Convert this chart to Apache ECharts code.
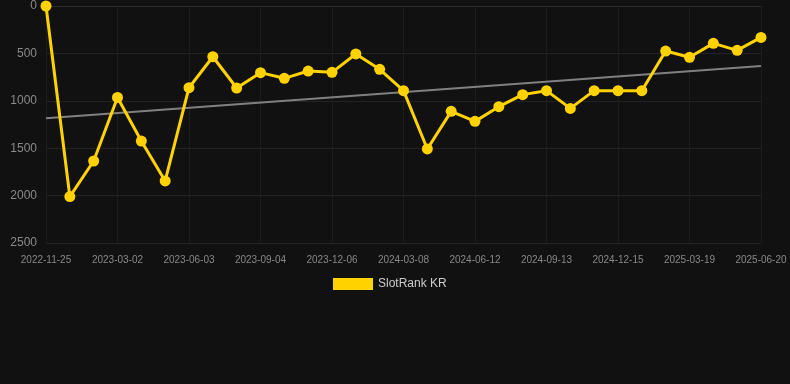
<!DOCTYPE html>
<html lang="en">
<head>
    <meta charset="UTF-8" />
    <title>SlotRank KR</title>
    <script src="https://cdn.jsdelivr.net/npm/echarts@6/dist/echarts.min.js"></script>
    <style>
        html, body { margin: 0; padding: 0; background: #111111; }
    </style>
</head>
<body>
    <div id="chart" style="width: 790px; height: 384px"></div>
    <script>
        // dates (only every 3rd one is shown on the axis)
        var dates = [
            "2022-11-25", "2022-12-27", "2023-01-29", "2023-03-02", "2023-04-03", "2023-05-03",
            "2023-06-03", "2023-07-05", "2023-08-04", "2023-09-04", "2023-10-05", "2023-11-05",
            "2023-12-06", "2024-01-06", "2024-02-06", "2024-03-08", "2024-04-09", "2024-05-11",
            "2024-06-12", "2024-07-13", "2024-08-13", "2024-09-13", "2024-10-14", "2024-11-14",
            "2024-12-15", "2025-01-16", "2025-02-17", "2025-03-19", "2025-04-20", "2025-05-20",
            "2025-06-20"
        ];

        var rankKR = [
            0, 2010, 1635, 965, 1425, 1845, 862, 535, 865, 703, 763,
            686, 700, 506, 668, 893, 1508, 1111, 1217, 1062, 935,
            893, 1080, 893, 893, 893, 475, 541, 394, 468, 331
        ];

        // trend line end points [index, value]
        var trend = [[0, 1185], [30, 633]];

        var yTicks = { min: 0, max: 2500, interval: 500 };

        var mCharts = echarts.init(document.getElementById("chart"));

        var option = {
            backgroundColor: "#111111",
            animation: false,
            grid: { left: 46, right: 29, top: 6, bottom: 141 },
            legend: {
                top: 273,
                left: 328,
                itemWidth: 40,
                itemHeight: 12,
                icon: "rect",
                data: ["SlotRank KR"],
                textStyle: { color: "#cccccc", fontSize: 12 },
            },
            xAxis: {
                type: "category",
                data: dates,
                boundaryGap: false,
                axisLine: { lineStyle: { color: "#2a2a2a" } },
                axisTick: { show: false },
                axisLabel: { interval: 2, color: "#888888", fontSize: 10, margin: 12 },
                splitLine: { show: true, interval: 2, lineStyle: { color: "#1c1c1c" } },
            },
            yAxis: {
                type: "value",
                inverse: true,
                min: yTicks.min,
                max: yTicks.max,
                interval: yTicks.interval,
                axisLine: { show: false },
                axisTick: { show: false },
                axisLabel: {
                    color: "#8a8a8a",
                    fontSize: 12,
                    margin: 9,
                    formatter: function (v) { return String(v); },
                },
                splitLine: { lineStyle: { color: "#222222" } },
            },
            series: [
                {
                    name: "SlotRank KR",
                    type: "line",
                    data: rankKR,
                    color: "#FFD200",
                    symbol: "circle",
                    symbolSize: 11,
                    lineStyle: { width: 3, color: "#FFD200" },
                    itemStyle: { color: "#FFD200" },
                    z: 3,
                },
                {
                    name: "trend",
                    type: "line",
                    data: trend,
                    symbol: "none",
                    lineStyle: { width: 2, color: "#808080" },
                    z: 2,
                },
            ],
        };

        mCharts.setOption(option);
    </script>
</body>
</html>
